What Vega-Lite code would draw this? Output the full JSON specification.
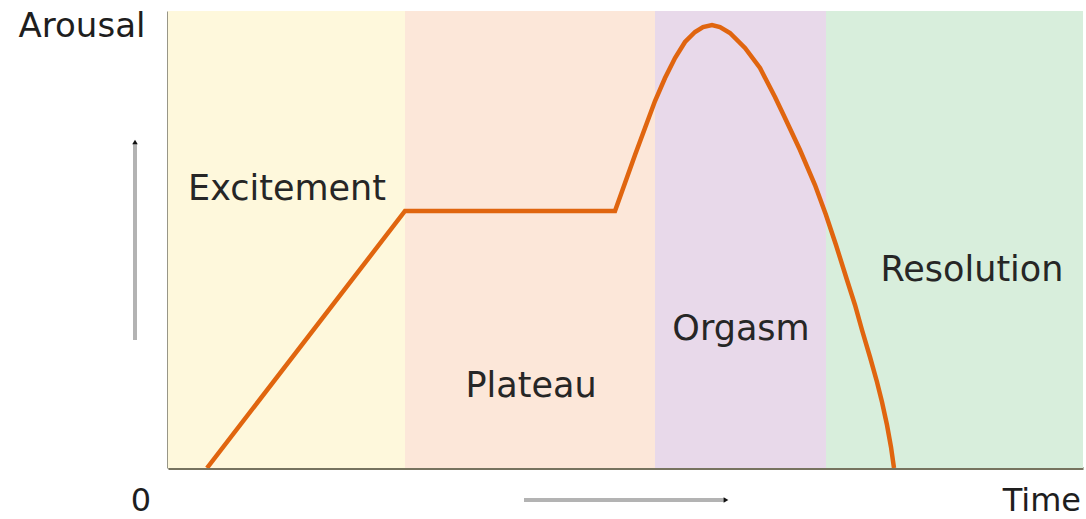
{
  "$schema": "https://vega.github.io/schema/vega-lite/v6.json",
  "width": 915,
  "height": 457,
  "autosize": "none",
  "padding": {"left": 168, "top": 11, "right": 3, "bottom": 51},
  "config": {"view": {"stroke": null}, "font": "DejaVu Sans"},
  "datasets": {
    "phases": [
      {"phase": "Excitement", "start": 0, "end": 237},
      {"phase": "Plateau", "start": 237, "end": 487},
      {"phase": "Orgasm", "start": 487, "end": 658},
      {"phase": "Resolution", "start": 658, "end": 915}
    ],
    "curve": [
      {"t": 39, "a": 0}, {"t": 237, "a": 257}, {"t": 447, "a": 257},
      {"t": 457, "a": 285}, {"t": 467, "a": 313}, {"t": 477, "a": 340},
      {"t": 487, "a": 367}, {"t": 497, "a": 390}, {"t": 507, "a": 410},
      {"t": 517, "a": 426}, {"t": 527, "a": 436}, {"t": 535, "a": 441},
      {"t": 544, "a": 443}, {"t": 552, "a": 441}, {"t": 562, "a": 435},
      {"t": 577, "a": 420}, {"t": 592, "a": 400}, {"t": 607, "a": 371},
      {"t": 617, "a": 350}, {"t": 632, "a": 318}, {"t": 647, "a": 283},
      {"t": 658, "a": 253}, {"t": 668, "a": 223}, {"t": 679, "a": 188},
      {"t": 687, "a": 163}, {"t": 694, "a": 138}, {"t": 702, "a": 111},
      {"t": 709, "a": 86}, {"t": 714, "a": 66}, {"t": 719, "a": 43},
      {"t": 723, "a": 21}, {"t": 726, "a": 0}
    ],
    "labels": [
      {"text": "Excitement", "x": 119, "y": 268},
      {"text": "Plateau", "x": 363, "y": 71},
      {"text": "Orgasm", "x": 573, "y": 128},
      {"text": "Resolution", "x": 804, "y": 187}
    ]
  },
  "layer": [
    {
      "data": {"name": "phases"},
      "mark": {"type": "rect"},
      "encoding": {
        "x": {"field": "start", "type": "quantitative", "scale": {"domain": [0, 915], "nice": false, "zero": false},
              "axis": {"domain": true, "domainColor": "#76735f", "domainWidth": 3, "ticks": false, "labels": false, "grid": false, "title": null}},
        "x2": {"field": "end"},
        "y": {"datum": 0, "type": "quantitative", "scale": {"domain": [0, 457], "nice": false},
              "axis": {"domain": true, "domainColor": "#76735f", "domainWidth": 2.5, "ticks": false, "labels": false, "grid": false, "title": null}},
        "y2": {"datum": 457},
        "color": {"field": "phase", "type": "nominal", "legend": null,
                  "scale": {"domain": ["Excitement", "Plateau", "Orgasm", "Resolution"],
                            "range": ["#fef8dc", "#fce7d9", "#e8d9ea", "#d8eedc"]}}
      }
    },
    {
      "data": {"name": "curve"},
      "mark": {"type": "line", "color": "#e0650f", "strokeWidth": 4.5, "clip": true},
      "encoding": {
        "x": {"field": "t", "type": "quantitative"},
        "y": {"field": "a", "type": "quantitative"}
      }
    },
    {
      "data": {"name": "labels"},
      "mark": {"type": "text", "fontSize": 35, "color": "#262626", "align": "center", "baseline": "alphabetic"},
      "encoding": {
        "x": {"field": "x", "type": "quantitative"},
        "y": {"field": "y", "type": "quantitative"},
        "text": {"field": "text"}
      }
    },
    {
      "data": {"values": [
        {"text": "Arousal", "x": -86, "y": 431}
      ]},
      "mark": {"type": "text", "fontSize": 34, "color": "#1e1e1e", "align": "center", "baseline": "alphabetic", "clip": false},
      "encoding": {
        "x": {"field": "x", "type": "quantitative"},
        "y": {"field": "y", "type": "quantitative"},
        "text": {"field": "text"}
      }
    },
    {
      "data": {"values": [
        {"text": "0", "x": -27, "y": -43}
      ]},
      "mark": {"type": "text", "fontSize": 32, "color": "#1e1e1e", "align": "center", "baseline": "alphabetic", "clip": false},
      "encoding": {
        "x": {"field": "x", "type": "quantitative"},
        "y": {"field": "y", "type": "quantitative"},
        "text": {"field": "text"}
      }
    },
    {
      "data": {"values": [
        {"text": "Time", "x": 913, "y": -43}
      ]},
      "mark": {"type": "text", "fontSize": 32, "color": "#1e1e1e", "align": "right", "baseline": "alphabetic", "clip": false},
      "encoding": {
        "x": {"field": "x", "type": "quantitative"},
        "y": {"field": "y", "type": "quantitative"},
        "text": {"field": "text"}
      }
    },
    {
      "data": {"values": [
        {"x": -33, "y": 128, "x2": -33, "y2": 324},
        {"x": 356, "y": -32, "x2": 556, "y2": -32}
      ]},
      "mark": {"type": "rule", "color": "#b3b3b3", "strokeWidth": 4, "clip": false},
      "encoding": {
        "x": {"field": "x", "type": "quantitative"},
        "y": {"field": "y", "type": "quantitative"},
        "x2": {"field": "x2"},
        "y2": {"field": "y2"}
      }
    },
    {
      "data": {"values": [
        {"x": -33, "y": 326, "dir": "up"},
        {"x": 558, "y": -32, "dir": "right"}
      ]},
      "mark": {"type": "point", "filled": true, "color": "#111111", "size": 30, "opacity": 1, "clip": false},
      "encoding": {
        "x": {"field": "x", "type": "quantitative"},
        "y": {"field": "y", "type": "quantitative"},
        "shape": {"field": "dir", "type": "nominal", "legend": null,
                  "scale": {"domain": ["up", "right"], "range": ["triangle-up", "triangle-right"]}}
      }
    }
  ]
}
